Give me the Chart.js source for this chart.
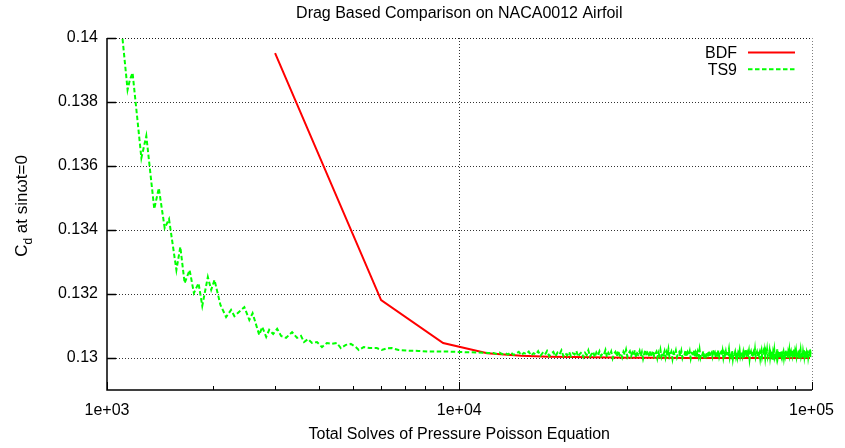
<!DOCTYPE html>
<html>
<head>
<meta charset="utf-8">
<script src="https://cdn.jsdelivr.net/npm/chart.js@4.4.1/dist/chart.umd.min.js"></script>
<style>
  html, body { margin: 0; padding: 0; background: #fff; }
  canvas { display: block; }
</style>
</head>
<body>
<canvas id="chart" width="845" height="448"></canvas>
<script>
// Drag coefficient convergence: BDF time stepping vs. 9-instance time spectral (TS9)
const chartTitle = 'Drag Based Comparison on NACA0012 Airfoil';
const xTitle = 'Total Solves of Pressure Poisson Equation';

const xTickValues = [1000, 10000, 100000];
const xTickLabels = ['1e+03', '1e+04', '1e+05'];
const xMinorTicks = [2000, 3000, 4000, 5000, 6000, 7000, 8000, 9000,
                     20000, 30000, 40000, 50000, 60000, 70000, 80000, 90000];
const yTickValues = [0.13, 0.132, 0.134, 0.136, 0.138, 0.14];
const yTickLabels = ['0.13', '0.132', '0.134', '0.136', '0.138', '0.14'];

const bdfSolves = [3000, 6000, 9000, 12000, 15000, 18000, 21000, 24000, 30000,
                   36000, 45000, 60000, 75000, 90000, 99000];
const bdfCd = [0.13953, 0.13181, 0.13047, 0.13015, 0.13007, 0.13004, 0.13003, 0.13002, 0.13001,
               0.13001, 0.13000, 0.13000, 0.13000, 0.13000, 0.13000];

const ts9Solves = [
  1102, 1144, 1161, 1182, 1252, 1293, 1362, 1403, 1458, 1500,
  1574, 1615, 1661, 1716, 1765, 1819, 1864, 1933, 1976, 2019,
  2099, 2178, 2250, 2299, 2454, 2535, 2590, 2705, 2759, 2831,
  2887, 2963, 3041, 3121, 3224, 3352, 3463, 3554, 3625, 3721,
  3819, 3945, 4076, 4210, 4349, 4493, 4612, 4764, 4921, 5084,
  5184, 5355, 5569, 5831, 6024, 6222, 6427, 6726, 7177, 7659,
  8175, 8724, 9310, 9936, 10600, 11310, 12070,
  12500, 12750, 13000, 13250, 13500, 13750, 14000, 14250, 14500, 14750,
  15000, 15250, 15500, 15750, 16000, 16250, 16500, 16750, 17000, 17250,
  17500, 17750, 18000, 18250, 18500, 18750, 19000, 19250, 19500, 19750, 20000,
  20250, 20500, 20750, 21000, 21250, 21500, 21750, 22000,
  22250, 22500, 22750, 23000, 23250, 23500, 23750, 24000,
  24250, 24500, 24750, 25000, 25250, 25500, 25750, 26000,
  26250, 26500, 26750, 27000, 27250, 27500, 27750, 28000,
  28250, 28500, 28750, 29000, 29250, 29500, 29750, 30000,
  30250, 30500, 30750, 31000, 31250, 31500, 31750, 32000,
  32250, 32500, 32750, 33000, 33250, 33500, 33750, 34000,
  34250, 34500, 34750, 35000, 35250, 35500, 35750, 36000,
  36250, 36500, 36750, 37000, 37250, 37500, 37750, 38000,
  38250, 38500, 38750, 39000, 39250, 39500, 39750, 40000,
  40300, 40600, 40900, 41200, 41500, 41800, 42100, 42400, 42700, 43000,
  43300, 43600, 43900, 44200, 44500, 44800, 45100, 45400, 45700, 46000,
  46300, 46600, 46900, 47200, 47500, 47800, 48100, 48400, 48700, 49000,
  49300, 49600, 49900, 50200, 50500, 50800, 51100, 51400, 51700, 52000,
  52300, 52600, 52900, 53200, 53500, 53800, 54100, 54400, 54700, 55000,
  55300, 55600, 55900, 56200, 56500, 56800, 57100, 57400, 57700, 58000,
  58300, 58600, 58900, 59200, 59500, 59800, 60100, 60400, 60700, 61000,
  61300, 61600, 61900, 62200, 62500, 62800, 63100, 63400, 63700, 64000,
  64300, 64600, 64900, 65200, 65500, 65800, 66100, 66400, 66700, 67000,
  67300, 67600, 67900, 68200, 68500, 68800, 69100, 69400, 69700, 70000,
  70300, 70600, 70900, 71200, 71500, 71800, 72100, 72400, 72700, 73000,
  73300, 73600, 73900, 74200, 74500, 74800, 75100, 75400, 75700, 76000,
  76300, 76600, 76900, 77200, 77500, 77800, 78100, 78400, 78700, 79000,
  79300, 79600, 79900, 80200, 80500, 80800, 81100, 81400, 81700, 82000,
  82300, 82600, 82900, 83200, 83500, 83800, 84100, 84400, 84700, 85000,
  85300, 85600, 85900, 86200, 86500, 86800, 87100, 87400, 87700, 88000,
  88300, 88600, 88900, 89200, 89500, 89800, 90100, 90400, 90700, 91000,
  91300, 91600, 91900, 92200, 92500, 92800, 93100, 93400, 93700, 94000,
  94300, 94600, 94900, 95200, 95500, 95800, 96100, 96400, 96700, 97000,
  97300, 97600, 97900, 98200, 98500, 98800, 99100, 99400, 99700, 100000
];
const ts9Cd = [
  0.14019, 0.13838, 0.13869, 0.13891, 0.13625, 0.13694, 0.13466, 0.13531, 0.13406, 0.13434,
  0.13275, 0.13347, 0.13234, 0.13275, 0.13203, 0.13234, 0.13163, 0.13253, 0.13213, 0.13244,
  0.13166, 0.13128, 0.13150, 0.13131, 0.13159, 0.13119, 0.13140, 0.13072, 0.13097, 0.13066,
  0.13088, 0.13075, 0.13091, 0.13069, 0.13063, 0.13081, 0.13063, 0.13069, 0.13050, 0.13059,
  0.13047, 0.13050, 0.13034, 0.13047, 0.13044, 0.13047, 0.13031, 0.13041, 0.13044, 0.13034,
  0.13025, 0.13034, 0.13031, 0.13031, 0.13025, 0.13030, 0.13031, 0.13025, 0.13023, 0.13022,
  0.13020, 0.13020, 0.13020, 0.13019, 0.13018, 0.13017, 0.13016,
  0.13016, 0.13013, 0.13017, 0.13012, 0.13015, 0.13011, 0.13018, 0.13010, 0.13014, 0.13019,
  0.13009, 0.13016, 0.13012, 0.13020, 0.13008, 0.13015, 0.13011, 0.13021, 0.13007, 0.13016,
  0.13010, 0.13022, 0.13006, 0.13014, 0.13019, 0.13005, 0.13017, 0.13011, 0.13024, 0.13006, 0.13015,
  0.13008, 0.13019, 0.13006, 0.13015, 0.13011, 0.13022, 0.13004, 0.13013,
  0.13018, 0.13003, 0.13016, 0.13009, 0.13024, 0.13005, 0.13012, 0.13020,
  0.13002, 0.13017, 0.13008, 0.13021, 0.13006, 0.13014, 0.13011, 0.13025,
  0.13003, 0.13016, 0.13008, 0.13020, 0.12999, 0.13013, 0.13019, 0.13005,
  0.13023, 0.13009, 0.13015, 0.13002, 0.13019, 0.13010, 0.13026, 0.13004,
  0.13014, 0.13021, 0.13006, 0.13017, 0.13009, 0.13024, 0.13001, 0.13015,
  0.13011, 0.13022, 0.13005, 0.13018, 0.12998, 0.13013, 0.13026, 0.13007,
  0.13016, 0.13010, 0.13021, 0.13003, 0.13014, 0.13023, 0.13005, 0.13012,
  0.13019, 0.13000, 0.13017, 0.13008, 0.13025, 0.13004, 0.13015, 0.13010,
  0.13021, 0.13002, 0.13018, 0.13007, 0.13027, 0.13005, 0.13013, 0.13020,
  0.12997, 0.13016, 0.13009, 0.13023, 0.13003, 0.13014, 0.13019, 0.13006, 0.13022, 0.13001,
  0.13013, 0.13011, 0.13025, 0.13004, 0.13017, 0.13008, 0.13021, 0.12999, 0.13015, 0.13012,
  0.13024, 0.13003, 0.13018, 0.13009, 0.13020, 0.13005, 0.13026, 0.13002, 0.13014, 0.13010,
  0.13022, 0.12996, 0.13016, 0.13007, 0.13019, 0.13010, 0.13023, 0.13003, 0.13013, 0.13017,
  0.13005, 0.13025, 0.13008, 0.13015, 0.13000, 0.13020, 0.13012, 0.13024, 0.13004, 0.13014,
  0.13018, 0.13007, 0.13022, 0.13001, 0.13016, 0.13009, 0.13021, 0.13006, 0.13014, 0.13011,
  0.13027, 0.13003, 0.13017, 0.13008, 0.13023, 0.12998, 0.13015, 0.13012, 0.13020, 0.13005,
  0.13019, 0.13002, 0.13016, 0.13010, 0.13024, 0.13004, 0.13013, 0.13021, 0.13006, 0.13018,
  0.13000, 0.13015, 0.13009, 0.13025, 0.13003, 0.13017, 0.13011, 0.13022, 0.12997, 0.13014,
  0.13020, 0.13006, 0.13023, 0.13002, 0.13016, 0.13008, 0.13026, 0.13004, 0.13013, 0.13019,
  0.13005, 0.13021, 0.13010, 0.13017, 0.12999, 0.13015, 0.13024, 0.13003, 0.13012, 0.13020,
  0.13007, 0.13022, 0.13001, 0.13018, 0.13009, 0.13025, 0.13005, 0.13014, 0.13011, 0.13023,
  0.13002, 0.13016, 0.13010, 0.13021, 0.12995, 0.13017, 0.13008, 0.13024, 0.13004, 0.13013,
  0.13019, 0.13006, 0.13027, 0.13003, 0.13015, 0.13011, 0.13022, 0.13000, 0.13018, 0.13009,
  0.13023, 0.13005, 0.13014, 0.13020, 0.13002, 0.13016, 0.13008, 0.13025, 0.13004, 0.13012,
  0.13021, 0.12998, 0.13017, 0.13010, 0.13024, 0.13006, 0.13013, 0.13019, 0.13003, 0.13022,
  0.13007, 0.13015, 0.13011, 0.13026, 0.13001, 0.13018, 0.13009, 0.13021, 0.13005, 0.13014,
  0.13020, 0.13004, 0.13023, 0.12997, 0.13016, 0.13012, 0.13024, 0.13006, 0.13013, 0.13018,
  0.13002, 0.13019, 0.13008, 0.13025, 0.13005, 0.13015, 0.13010, 0.13022, 0.13000, 0.13017,
  0.13011, 0.13023, 0.13004, 0.13014, 0.13020, 0.13007, 0.13026, 0.13003, 0.13016, 0.13012
];

const FONT = '"Liberation Sans", Arial, Helvetica, sans-serif';
const TS9_DASH = [4.5, 2.5];

const pairs = (xs, ys) => xs.map((v, i) => ({ x: v, y: ys[i] }));

// Frame, dotted grid, inward ticks, legend and titles in gnuplot style
const gnuFrame = {
  id: 'gnuFrame',
  beforeDatasetsDraw(chart) {
    const { ctx, chartArea: a, scales: { x, y } } = chart;
    ctx.save();
    ctx.lineWidth = 1;
    ctx.setLineDash([1, 2]);
    ctx.strokeStyle = 'rgba(0,0,0,0.8)';
    yTickValues.forEach(v => {
      const py = Math.round(y.getPixelForValue(v)) + 0.5;
      ctx.beginPath(); ctx.moveTo(a.left, py); ctx.lineTo(a.right, py); ctx.stroke();
    });
    const gx = Math.round(x.getPixelForValue(10000)) + 0.5;
    ctx.beginPath(); ctx.moveTo(gx, a.top); ctx.lineTo(gx, a.bottom); ctx.stroke();
    // top and right border
    ctx.strokeStyle = 'rgba(0,0,0,0.5)';
    const rx = Math.round(a.right) + 0.5, ty = Math.round(a.top) + 0.5;
    ctx.beginPath(); ctx.moveTo(a.left, ty); ctx.lineTo(rx, ty); ctx.lineTo(rx, a.bottom); ctx.stroke();
    ctx.restore();
  },
  afterDatasetsDraw(chart) {
    const { ctx, chartArea: a, scales: { x, y } } = chart;
    ctx.save();
    ctx.setLineDash([]);
    ctx.strokeStyle = '#000';
    ctx.lineWidth = 1.5;
    // left and bottom axes
    ctx.beginPath();
    ctx.moveTo(a.left, a.top); ctx.lineTo(a.left, a.bottom); ctx.lineTo(a.right + 0.5, a.bottom);
    ctx.stroke();
    // y ticks (inward)
    yTickValues.forEach(v => {
      const py = Math.round(y.getPixelForValue(v)) + 0.5;
      ctx.beginPath(); ctx.moveTo(a.left, py); ctx.lineTo(a.left + 9, py); ctx.stroke();
    });
    // x ticks (inward), major and minor
    ctx.lineWidth = 1;
    xTickValues.forEach(v => {
      const px = Math.round(x.getPixelForValue(v)) + 0.5;
      ctx.beginPath(); ctx.moveTo(px, a.bottom); ctx.lineTo(px, a.bottom - 8); ctx.stroke();
    });
    xMinorTicks.forEach(v => {
      const px = Math.round(x.getPixelForValue(v)) + 0.5;
      ctx.beginPath(); ctx.moveTo(px, a.bottom); ctx.lineTo(px, a.bottom - 4); ctx.stroke();
    });

    // legend: label left of the line sample
    ctx.font = '16px ' + FONT;
    ctx.fillStyle = '#000';
    ctx.textAlign = 'right';
    ctx.textBaseline = 'alphabetic';
    const ds = chart.data.datasets;
    const legendOrder = [1, 0];
    legendOrder.forEach((di, row) => {
      const d = ds[di];
      const yy = 52.5 + row * 16.7;
      ctx.fillText(d.label, 737, yy + 5.5);
      ctx.strokeStyle = d.borderColor;
      ctx.lineWidth = d.borderWidth;
      ctx.setLineDash(d.borderDash || []);
      ctx.beginPath(); ctx.moveTo(748, yy); ctx.lineTo(795, yy); ctx.stroke();
    });
    ctx.restore();
  },
  afterDraw(chart) {
    const { ctx, chartArea: a } = chart;
    const cx = (a.left + a.right) / 2;
    ctx.save();
    ctx.fillStyle = '#000';
    ctx.font = '16px ' + FONT;
    ctx.textAlign = 'center';
    ctx.textBaseline = 'alphabetic';
    ctx.fillText(chartTitle, cx, 18);
    ctx.fillText(xTitle, cx, 439);

    // y title with subscript, rotated
    const parts = [
      { t: 'C', size: 17, dy: 0 },
      { t: 'd', size: 12, dy: 5 },
      { t: ' at sin\u03c9t=0', size: 17, dy: 0 }
    ];
    let total = 0;
    parts.forEach(p => { ctx.font = p.size + 'px ' + FONT; p.w = ctx.measureText(p.t).width; total += p.w; });
    ctx.translate(27, (a.top + a.bottom) / 2 - 8);
    ctx.rotate(-Math.PI / 2);
    ctx.textAlign = 'left';
    let pos = -total / 2;
    parts.forEach(p => {
      ctx.font = p.size + 'px ' + FONT;
      ctx.fillText(p.t, pos, p.dy);
      pos += p.w;
    });
    ctx.restore();
  }
};

new Chart(document.getElementById('chart'), {
  type: 'line',
  data: {
    datasets: [
      {
        label: 'TS9',
        data: pairs(ts9Solves, ts9Cd),
        borderColor: '#00ff00',
        borderWidth: 2,
        borderDash: TS9_DASH,
        pointRadius: 0,
        tension: 0,
        fill: false,
        order: 0
      },
      {
        label: 'BDF',
        data: pairs(bdfSolves, bdfCd),
        borderColor: '#ff0000',
        borderWidth: 2,
        pointRadius: 0,
        tension: 0,
        fill: false,
        order: 1
      }
    ]
  },
  options: {
    responsive: false,
    devicePixelRatio: 1,
    animation: false,
    layout: { padding: { left: 0, right: 30, top: 38, bottom: 0 } },
    plugins: { legend: { display: false }, title: { display: false }, tooltip: { enabled: false } },
    scales: {
      x: {
        type: 'logarithmic',
        min: 1000,
        max: 100000,
        grid: { display: false, drawTicks: false },
        border: { display: false },
        afterBuildTicks: s => { s.ticks = xTickValues.map(v => ({ value: v })); },
        afterFit: s => { s.height = 58; },
        ticks: {
          autoSkip: false,
          maxRotation: 0,
          padding: 11,
          color: '#000',
          font: { family: FONT, size: 16 },
          callback: (v) => xTickLabels[xTickValues.indexOf(v)]
        }
      },
      y: {
        type: 'linear',
        min: 0.129,
        max: 0.14,
        grid: { display: false, drawTicks: false },
        border: { display: false },
        afterBuildTicks: s => { s.ticks = yTickValues.map(v => ({ value: v })); },
        afterFit: s => { s.width = 107; },
        ticks: {
          padding: 9,
          color: '#000',
          font: { family: FONT, size: 16 },
          callback: (v) => {
            const i = yTickValues.findIndex(t => Math.abs(t - v) < 1e-9);
            return i >= 0 ? yTickLabels[i] : '';
          }
        }
      }
    }
  },
  plugins: [gnuFrame]
});
</script>
</body>
</html>
